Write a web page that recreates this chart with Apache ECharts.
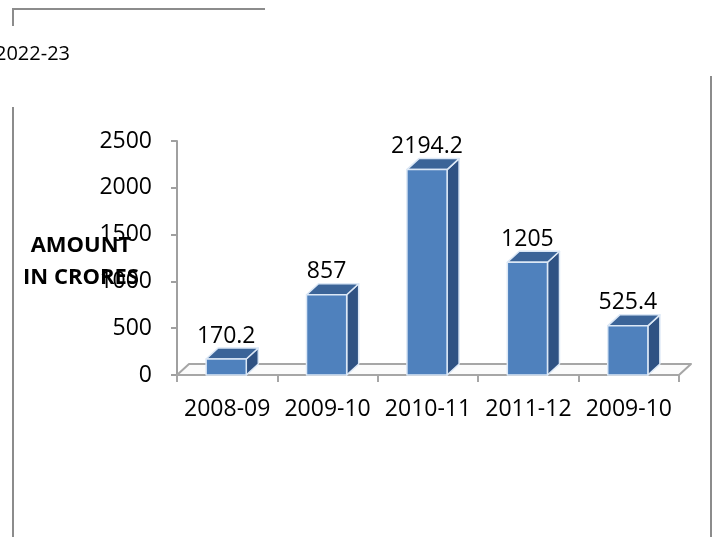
<!DOCTYPE html>
<html>
<head>
<meta charset="utf-8">
<script src="https://cdn.jsdelivr.net/npm/echarts@6/dist/echarts.min.js"></script>
<style>
html,body{margin:0;padding:0;background:#fff;}
#chart{width:725px;height:537px;}
</style>
</head>
<body>
<div id="chart"></div>
<script>
// ---- data ----
const categories = ["2008-09", "2009-10", "2010-11", "2011-12", "2009-10"];
const amounts = [170.2, 857, 2194.2, 1205, 525.4];
const yTicks = [0, 500, 1000, 1500, 2000, 2500];
const yTitleLines = ["AMOUNT", "IN CRORES"];
const headerText = "2022-23";

const FONT = "'Open Sans', 'DejaVu Sans', sans-serif";
const DX = 12, DY = 11;           // 3D depth offset (pixels)
const FRONT = '#4F81BD', SIDE = '#2F5283', TOP = '#3B6498', EDGE = '#DCE8F6';

const chart = echarts.init(document.getElementById('chart'), null, {renderer: 'canvas'});

function floorItem(params, api) {
  const n = categories.length;
  const bw = api.size([1, 0])[0];
  const a = api.coord([0, 0]);
  const b = api.coord([n - 1, 0]);
  const l = a[0] - bw / 2, r = b[0] + bw / 2, y = a[1];
  return {
    type: 'polygon',
    shape: {points: [[l, y], [r, y], [r + DX, y - DY], [l + DX, y - DY]]},
    style: {fill: '#fbfbfb', stroke: '#a6a6a6', lineWidth: 2, lineJoin: 'round'},
    z2: 0
  };
}

function barItem(params, api) {
  const i = api.value(0), v = api.value(1);
  const base = api.coord([i, 0]);
  const top = api.coord([i, v]);
  const bw = api.size([1, 0])[0];
  const w = bw * 0.4;
  const x0 = base[0] - w / 2 - 1;
  const x1 = x0 + w;
  const yb = base[1], yt = top[1];
  const edge = {stroke: EDGE, lineWidth: 1.5, lineJoin: 'round'};
  return {
    type: 'group',
    children: [
      {type: 'polygon', shape: {points: [[x1, yt], [x1 + DX, yt - DY], [x1 + DX, yb - DY], [x1, yb]]},
       style: Object.assign({fill: SIDE}, edge)},
      {type: 'polygon', shape: {points: [[x0, yt], [x0 + DX, yt - DY], [x1 + DX, yt - DY], [x1, yt]]},
       style: Object.assign({fill: TOP}, edge)},
      {type: 'rect', shape: {x: x0, y: yt, width: w, height: yb - yt},
       style: Object.assign({fill: FRONT}, edge)},
      {type: 'text', x: base[0] - 1, y: yt - 23,
       style: {text: String(v), fill: '#000', font: '23px ' + FONT, align: 'center', verticalAlign: 'middle'}}
    ]
  };
}

const option = {
  animation: false,
  backgroundColor: '#ffffff',
  grid: {left: 177, top: 141, right: 46, bottom: 162, containLabel: false},
  xAxis: {
    type: 'category',
    data: categories,
    boundaryGap: true,
    axisLine: {show: true, lineStyle: {color: '#a6a6a6', width: 2}},
    axisTick: {show: true, length: 7, alignWithLabel: false, lineStyle: {color: '#a6a6a6', width: 2}},
    axisLabel: {color: '#000', fontSize: 23, fontFamily: FONT, margin: 23, interval: 0},
    splitLine: {show: false},
    z: 1
  },
  yAxis: {
    type: 'value',
    min: yTicks[0],
    max: yTicks[yTicks.length - 1],
    interval: yTicks[1] - yTicks[0],
    axisLine: {show: true, lineStyle: {color: '#a0a0a0', width: 2}},
    axisTick: {show: true, length: 6, inside: false, lineStyle: {color: '#a0a0a0', width: 2}},
    axisLabel: {color: '#000', fontSize: 23, fontFamily: FONT, margin: 25,
                formatter: function (v) { return String(v); }},
    splitLine: {show: false}
  },
  series: [
    {type: 'custom', name: 'floor', data: [[0]], renderItem: floorItem, z: 2, silent: true},
    {type: 'custom', name: 'amount', data: amounts.map((v, i) => [i, v]), renderItem: barItem, z: 3,
     encode: {x: 0, y: 1}}
  ],
  graphic: [
    {type: 'polyline', shape: {points: [[13, 26], [13, 9], [265, 9]]},
     style: {stroke: '#8c8c8c', lineWidth: 2, fill: null}, silent: true},
    {type: 'line', shape: {x1: 13, y1: 107, x2: 13, y2: 537},
     style: {stroke: '#8c8c8c', lineWidth: 2}, silent: true},
    {type: 'line', shape: {x1: 711, y1: 76, x2: 711, y2: 537},
     style: {stroke: '#8c8c8c', lineWidth: 2}, silent: true},
    {type: 'text', x: 70, y: 54,
     style: {text: headerText, fill: '#000', font: '20px ' + FONT, align: 'right', verticalAlign: 'middle'}},
    {type: 'text', x: 81, y: 262, z: 100,
     style: {text: yTitleLines.join('\n'), fill: '#000', font: 'bold 22px ' + FONT,
             align: 'center', verticalAlign: 'middle', lineHeight: 32}}
  ]
};
chart.setOption(option);
</script>
</body>
</html>
